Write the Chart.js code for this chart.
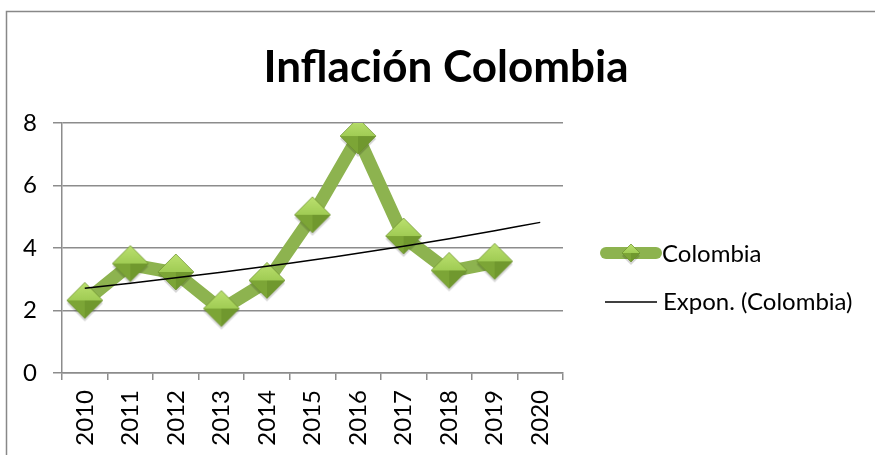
<!DOCTYPE html>
<html lang="es">
<head>
    <meta charset="UTF-8">
    <title>Inflación Colombia</title>
    <style>
        body { margin: 0; background: #FFFFFF; }
        .chart-container { width: 875px; height: 455px; position: relative; }
    </style>
</head>
<body>
    <div class="chart-container">
        <canvas id="inflChart"></canvas>
    </div>

    <script src="https://cdn.jsdelivr.net/npm/chart.js"></script>
    <script>
        // data
        const years = ['2010', '2011', '2012', '2013', '2014', '2015', '2016', '2017', '2018', '2019', '2020'];
        const colombia = [2.29, 3.47, 3.2, 2.03, 2.93, 5.03, 7.55, 4.35, 3.25, 3.54];
        const yTicks = [0, 2, 4, 6, 8];

        const titleText = 'Inflación Colombia';
        const seriesName = 'Colombia';
        const trendName = 'Expon. (Colombia)';

        const lineGreen = '#8DB34F';
        const gridGray = '#8C8C8C';
        const fontFamily = 'Lato, "Open Sans", sans-serif';

        // exponential trendline (least squares on ln y), like the spreadsheet one
        const n = colombia.length;
        const xs = colombia.map((v, i) => i + 1);
        const lny = colombia.map(v => Math.log(v));
        const mx = xs.reduce((a, b) => a + b, 0) / n;
        const my = lny.reduce((a, b) => a + b, 0) / n;
        let sxy = 0, sxx = 0;
        for (let i = 0; i < n; i++) {
            sxy += (xs[i] - mx) * (lny[i] - my);
            sxx += (xs[i] - mx) * (xs[i] - mx);
        }
        const slope = sxy / sxx;
        const icpt = my - slope * mx;
        const trend = years.map((y, i) => Math.exp(icpt + slope * (i + 1)));

        // bevelled diamond marker
        function makeDiamond(w, h) {
            const c = document.createElement('canvas');
            c.width = w + 4;
            c.height = h + 6;
            const g = c.getContext('2d');
            const cx = w / 2 + 2, cy = h / 2 + 2;
            const L = cx - w / 2, R = cx + w / 2, T = cy - h / 2, B = cy + h / 2;
            // soft shadow
            g.fillStyle = 'rgba(0,0,0,0.16)';
            g.beginPath();
            g.moveTo(cx, T + 3); g.lineTo(R, cy + 3); g.lineTo(cx, B + 3); g.lineTo(L, cy + 3);
            g.closePath(); g.fill();
            const facet = (pts, col) => {
                g.fillStyle = col;
                g.beginPath();
                g.moveTo(pts[0][0], pts[0][1]);
                for (let k = 1; k < pts.length; k++) g.lineTo(pts[k][0], pts[k][1]);
                g.closePath();
                g.fill();
            };
            facet([[cx, T], [R, cy], [cx, cy], [L, cy]], '#A0CC54');
            facet([[L, cy], [cx, cy], [cx, B]], '#7CA536');
            facet([[R, cy], [cx, cy], [cx, B]], '#70982E');
            // top highlight
            const hl = g.createLinearGradient(0, T, 0, cy);
            hl.addColorStop(0, 'rgba(205,238,130,0.6)');
            hl.addColorStop(1, 'rgba(205,238,130,0)');
            facet([[cx, T], [R, cy], [L, cy]], hl);
            g.strokeStyle = '#6B8F2C';
            g.lineWidth = 0.7;
            g.beginPath();
            g.moveTo(cx, T); g.lineTo(R, cy); g.lineTo(cx, B); g.lineTo(L, cy);
            g.closePath(); g.stroke();
            return c;
        }
        const diamond = makeDiamond(36, 36);
        const smallDiamond = makeDiamond(18, 18);

        // frame, title and legend
        const decorPlugin = {
            id: 'decor',
            beforeDraw(chart) {
                const c = chart.ctx;
                c.save();
                c.fillStyle = '#FFFFFF';
                c.fillRect(0, 0, chart.width, chart.height);
                c.strokeStyle = '#888888';
                c.lineWidth = 1.5;
                c.strokeRect(6.5, 11.5, 1000, 600);
                c.restore();
            },
            afterDraw(chart) {
                const c = chart.ctx;
                c.save();
                c.fillStyle = '#000000';
                c.font = 'bold 44px ' + fontFamily;
                c.textAlign = 'center';
                c.textBaseline = 'alphabetic';
                c.fillText(titleText, 446, 82);

                // legend
                c.font = '24px ' + fontFamily;
                c.textAlign = 'left';
                c.textBaseline = 'middle';
                c.strokeStyle = lineGreen;
                c.lineWidth = 12;
                c.lineCap = 'round';
                c.beginPath();
                c.moveTo(606, 253); c.lineTo(656, 253);
                c.stroke();
                c.drawImage(smallDiamond, 631 - smallDiamond.width / 2, 253 - (smallDiamond.height - 2) / 2);
                c.fillStyle = '#000000';
                c.fillText(seriesName, 662, 254);

                c.strokeStyle = '#000000';
                c.lineWidth = 1.5;
                c.lineCap = 'butt';
                c.beginPath();
                c.moveTo(605, 302); c.lineTo(657, 302);
                c.stroke();
                c.fillText(trendName, 663, 302);
                c.restore();
            }
        };

        const ctx = document.getElementById('inflChart').getContext('2d');

        const data = {
            labels: years,
            datasets: [{
                label: seriesName,
                data: colombia,
                borderColor: lineGreen,
                borderWidth: 13,
                borderJoinStyle: 'round',
                borderCapStyle: 'round',
                pointStyle: diamond,
                pointRadius: 18,
                pointHoverRadius: 18,
                tension: 0,
                order: 1
            }, {
                label: trendName,
                data: trend,
                borderColor: '#000000',
                borderWidth: 1.5,
                pointRadius: 0,
                tension: 0.4,
                order: 0
            }]
        };

        const config = {
            type: 'line',
            data: data,
            options: {
                responsive: true,
                maintainAspectRatio: false,
                animation: false,
                layout: {
                    padding: { top: 123, right: 312, left: 0, bottom: 0 }
                },
                plugins: {
                    legend: { display: false },
                    title: { display: false },
                    tooltip: { enabled: false }
                },
                scales: {
                    x: {
                        offset: true,
                        grid: {
                            offset: true,
                            drawOnChartArea: false,
                            drawTicks: true,
                            tickLength: 7,
                            color: gridGray,
                            lineWidth: 1.5
                        },
                        border: { color: gridGray, width: 1.5 },
                        ticks: {
                            color: '#000000',
                            font: { family: fontFamily, size: 24 },
                            maxRotation: 90,
                            minRotation: 90,
                            padding: 10
                        },
                        afterFit(scale) { scale.height = 82; }
                    },
                    y: {
                        min: 0,
                        max: 8,
                        afterBuildTicks(scale) {
                            scale.ticks = yTicks.map(v => ({ value: v }));
                        },
                        grid: {
                            color: gridGray,
                            lineWidth: 1.5,
                            tickLength: 9
                        },
                        border: { color: gridGray, width: 1.5 },
                        ticks: {
                            color: '#000000',
                            font: { family: fontFamily, size: 24 },
                            padding: 16
                        },
                        afterFit(scale) { scale.width = 62; }
                    }
                }
            },
            plugins: [decorPlugin]
        };

        const inflChart = new Chart(ctx, config);
    </script>
</body>
</html>
